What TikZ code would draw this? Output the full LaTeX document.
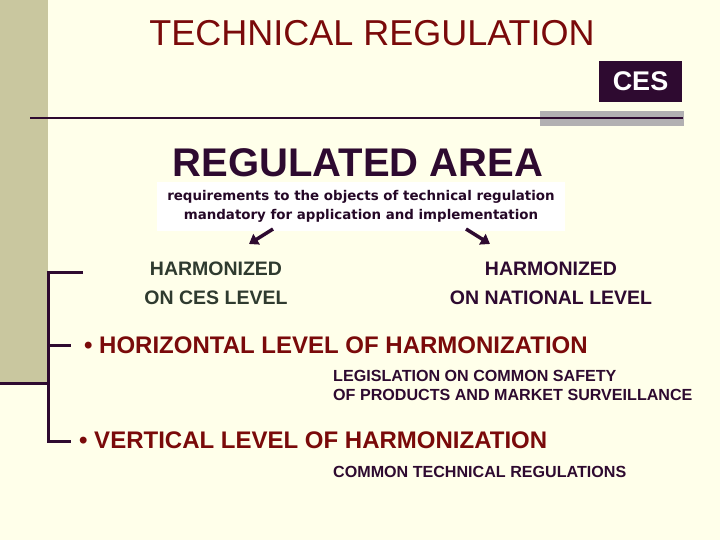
\documentclass[tikz,border=0pt]{standalone}
\usepackage{fontspec}
\setmainfont{Liberation Sans}
\newfontfamily\reqfont{DejaVu Sans}
\usepackage{tikz}
\usetikzlibrary{positioning, arrows.meta}
\definecolor{cream}{RGB}{255,255,234}
\definecolor{khaki}{RGB}{201,199,159}
\definecolor{darkred}{RGB}{122,10,10}
\definecolor{plum}{RGB}{46,10,48}
\definecolor{slate}{RGB}{47,59,47}
\definecolor{bargray}{RGB}{178,176,178}

\begin{document}
\begin{tikzpicture}[x=1pt, y=-1pt, node distance=4pt]
    % Define styles
    \tikzstyle{title} = [text=darkred, inner sep=0pt, font=\fontsize{36}{40}\selectfont]
    \tikzstyle{area} = [text=plum, inner sep=0pt, font=\bfseries\fontsize{40}{44}\selectfont]
    \tikzstyle{req} = [rectangle, fill=white, text=plum!80!black, align=center,
        minimum width=408pt, minimum height=49pt, inner sep=0pt,
        font=\reqfont\bfseries\fontsize{13.4}{19}\selectfont]
    \tikzstyle{harm} = [align=center, inner sep=0pt, font=\bfseries\fontsize{19.5}{29}\selectfont]
    \tikzstyle{level} = [anchor=west, text=darkred, inner sep=0pt, font=\bfseries\fontsize{24}{28}\selectfont]
    \tikzstyle{note} = [anchor=west, align=left, text=plum, inner sep=0pt, font=\bfseries\fontsize{16.1}{19}\selectfont]
    \tikzstyle{bracket} = [draw=plum, line width=3pt]
    \tikzstyle{line} = [draw=plum, line width=3.5pt, -{Triangle[width=12pt, length=9pt]}]

    % Background and frame
    \fill [cream] (0,0) rectangle (720,540);
    \useasboundingbox (0,0) rectangle (720,540);
    \fill [khaki] (0,0) rectangle (48,383);
    \fill [bargray] (540,111) rectangle (684,126);
    \draw [plum, line width=2pt] (30,118) -- (683,118);

    % Place nodes
    \node [title] (title) at (372,33) {TECHNICAL REGULATION};
    \node [rectangle, fill=plum, text=white, minimum width=83pt, minimum height=41pt,
        inner sep=0pt, font=\bfseries\fontsize{27}{28}\selectfont] (ces) at (640.5,81.5) {CES};

    \node [area] (area) at (358,163) {REGULATED AREA};
    \node [req] (req) at (361,206.5) {requirements to the objects of technical regulation\\
        mandatory for application and implementation};

    \node [harm, text=slate] (cesLevel) at (216,283) {HARMONIZED\\ON CES LEVEL};
    \node [harm, text=plum] (natLevel) at (551,283) {HARMONIZED\\ON NATIONAL LEVEL};

    \node [level] (horizontal) at (84,345) {\textbullet\ HORIZONTAL LEVEL OF HARMONIZATION};
    \node [note] (safety) at (333,385.5) {LEGISLATION ON COMMON SAFETY\\OF PRODUCTS AND MARKET SURVEILLANCE};
    \node [level] (vertical) at (79,440) {\textbullet\ VERTICAL LEVEL OF HARMONIZATION};
    \node [note] (common) at (333,472) {COMMON TECHNICAL REGULATIONS};

    % Bracket on the left
    \coordinate (brTop) at (48,272);
    \coordinate (brBottom) at (48,441);
    \draw [bracket] (83,272) -- (brTop) -- (brBottom) -- (71,441);
    \draw [bracket] (brTop |- horizontal) -- (71,345);
    \draw [bracket] (0,383) -- (brTop |- 0,383);

    % Draw edges
    \coordinate (leftFrom) at (273,229);
    \coordinate (rightFrom) at (466,229);
    \path [line] (leftFrom) -- (249,244);
    \path [line] (rightFrom) -- (490,244);
\end{tikzpicture}
\end{document}
